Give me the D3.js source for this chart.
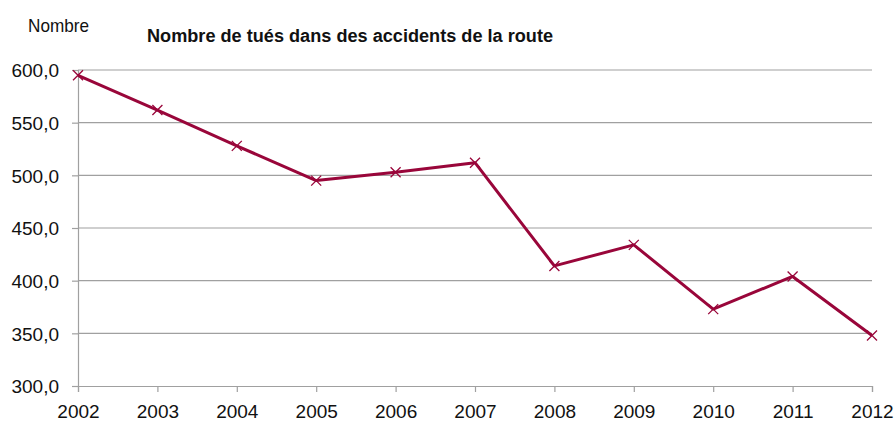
<!DOCTYPE html>
<html>
<head>
<meta charset="utf-8">
<script src="https://cdn.jsdelivr.net/npm/d3@7/dist/d3.min.js"></script>
<style>
  body { margin: 0; background: #fff; }
  svg { display: block; font-family: "Liberation Sans", Arial, sans-serif; }
</style>
</head>
<body>
<svg id="chart" width="895" height="421"></svg>
<script>
// ─── data ───
const years = [2002, 2003, 2004, 2005, 2006, 2007, 2008, 2009, 2010, 2011, 2012];
const tues = [595, 562, 528, 495, 503, 512, 414, 434, 373, 404, 348];
const yTicks = [300, 350, 400, 450, 500, 550, 600];

const svg = d3.select('#chart');
const m = { left: 78, right: 23, top: 70, bottom: 35 };
const W = 895, H = 421;

const x = d3.scalePoint().domain(years).range([m.left, W - m.right]);
const y = d3.scaleLinear().domain([300, 600]).range([H - m.bottom, m.top]);
const fmt = v => d3.format('.1f')(v).replace('.', ',');

// gridlines
svg.append('g')
  .selectAll('line')
  .data(yTicks.filter(d => d > 300))
  .join('line')
  .attr('x1', m.left).attr('x2', W - m.right)
  .attr('y1', d => y(d)).attr('y2', d => y(d))
  .attr('stroke', '#a0a0a0').attr('stroke-width', 1.2);

// y axis
const gy = svg.append('g')
  .attr('transform', `translate(${m.left},0)`)
  .call(d3.axisLeft(y).tickValues(yTicks).tickFormat(fmt).tickSize(6).tickPadding(13));
gy.selectAll('path, line').attr('stroke', '#a0a0a0').attr('stroke-width', 1.2);
gy.selectAll('text').attr('font-size', 19).attr('fill', '#111')
  .attr('font-family', 'inherit').attr('dy', '0.36em');

// x axis
const gx = svg.append('g')
  .attr('transform', `translate(0,${y(300)})`)
  .call(d3.axisBottom(x).tickSize(6).tickPadding(13).tickSizeOuter(6));
gx.selectAll('path, line').attr('stroke', '#a0a0a0').attr('stroke-width', 1.2);
gx.selectAll('text').attr('font-size', 19).attr('fill', '#111')
  .attr('font-family', 'inherit');

// line
const pts = years.map((yr, i) => [x(yr), y(tues[i])]);
svg.append('path')
  .attr('d', d3.line()(pts))
  .attr('fill', 'none')
  .attr('stroke', '#99063a')
  .attr('stroke-width', 3)
  .attr('stroke-linejoin', 'round');

// x markers
const s = 5;
svg.append('g')
  .selectAll('path')
  .data(pts)
  .join('path')
  .attr('d', d => `M${d[0]-s},${d[1]-s}L${d[0]+s},${d[1]+s}M${d[0]-s},${d[1]+s}L${d[0]+s},${d[1]-s}`)
  .attr('stroke', '#99063a')
  .attr('stroke-width', 1.3);

// texts
svg.append('text')
  .attr('x', 28).attr('y', 32)
  .attr('font-size', 19).attr('fill', '#111')
  .attr('textLength', 61).attr('lengthAdjust', 'spacingAndGlyphs')
  .text('Nombre');
svg.append('text')
  .attr('x', 147).attr('y', 42)
  .attr('font-size', 18).attr('font-weight', 'bold').attr('fill', '#111')
  .attr('textLength', 406).attr('lengthAdjust', 'spacingAndGlyphs')
  .text('Nombre de tués dans des accidents de la route');
</script>
</body>
</html>
